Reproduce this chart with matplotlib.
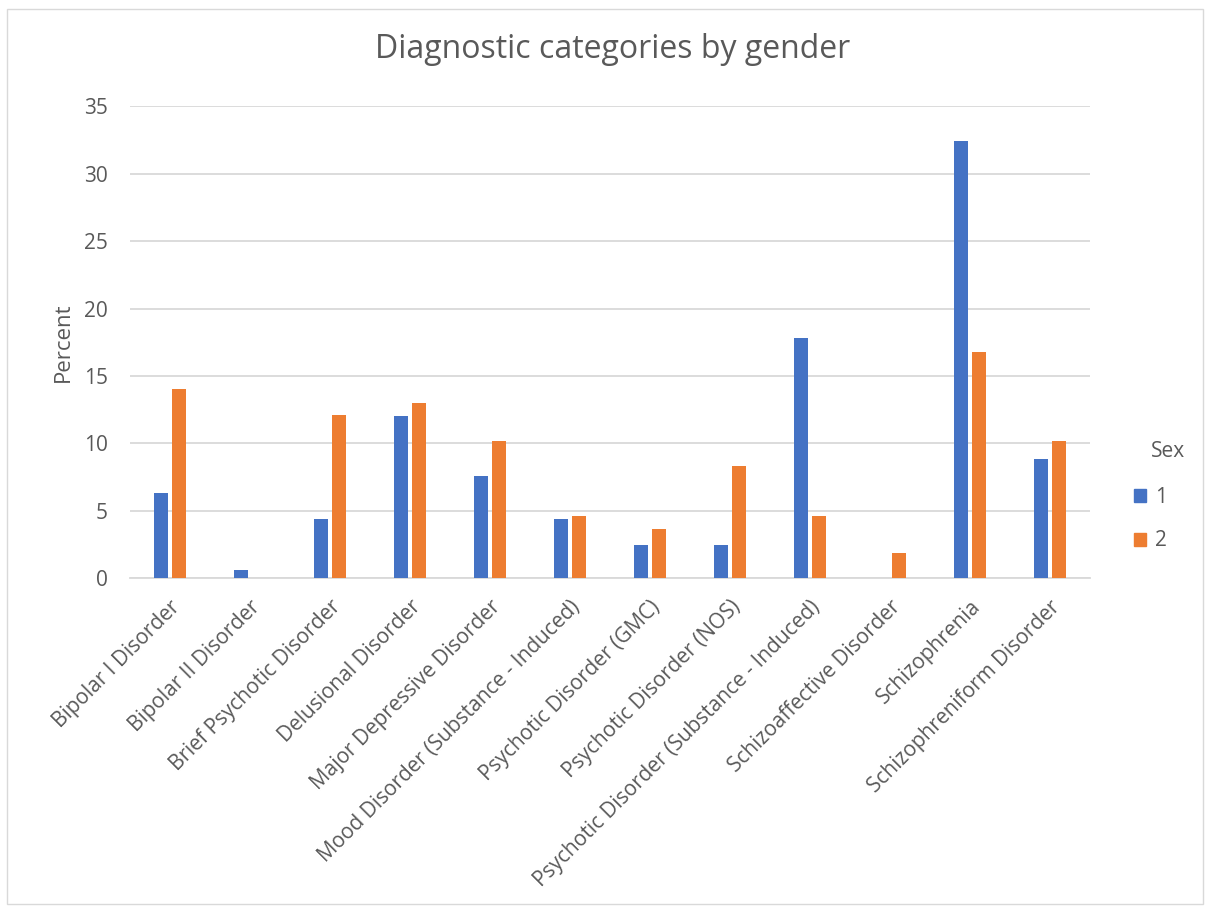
import matplotlib
matplotlib.use("Agg")
import matplotlib.pyplot as plt
import matplotlib.patches as mpatches
import numpy as np

plt.rcParams['font.family'] = ['Open Sans', 'DejaVu Sans']

#Data
categories = ["Bipolar I Disorder", "Bipolar II Disorder", "Brief Psychotic Disorder",
              "Delusional Disorder", "Major Depressive Disorder",
              "Mood Disorder (Substance - Induced)", "Psychotic Disorder (GMC)",
              "Psychotic Disorder (NOS)", "Psychotic Disorder (Substance - Induced)",
              "Schizoaffective Disorder", "Schizophrenia", "Schizophreniform Disorder"]
sex1 = [6.3, 0.6, 4.4, 12.0, 7.6, 4.4, 2.5, 2.5, 17.8, 0.0, 32.4, 8.85]
sex2 = [14.0, 0.0, 12.1, 13.0, 10.2, 4.6, 3.65, 8.35, 4.6, 1.85, 16.8, 10.2]
series_names = ["1", "2"]

blue = '#4472C4'
orange = '#ED7D31'
grey = '#595959'

fig = plt.figure(figsize=(12.1, 9.09), dpi=100)
ax = fig.add_axes([0.1074, 0.3638, 0.7934, 0.5193])

x = np.arange(len(categories))
w = 0.17
ax.bar(x - 0.115, sex1, width=w, color=blue, zorder=3)
ax.bar(x + 0.115, sex2, width=w, color=orange, zorder=3)

ax.set_xlim(-0.5, len(categories) - 0.5)
ax.set_ylim(0, 35)
ax.set_yticks(range(0, 36, 5))
ax.yaxis.grid(True, color='#D9D9D9', linewidth=1.3, zorder=0)
for s in ['top', 'right', 'left']:
    ax.spines[s].set_visible(False)
ax.spines['bottom'].set_color('#D9D9D9')
ax.spines['bottom'].set_linewidth(1.3)
ax.tick_params(axis='y', length=0, labelsize=15, labelcolor=grey, pad=16)
ax.tick_params(axis='x', length=0, labelsize=15, labelcolor=grey, pad=13)
ax.set_xticks(x)
ax.set_xticklabels(categories, rotation=45, ha='right', rotation_mode='anchor')
ax.set_ylabel("Percent", fontsize=16, color=grey, labelpad=7)

fig.text(0.506, 0.945, "Diagnostic categories by gender", ha='center', va='center',
         fontsize=23, color=grey)

#Legend
handles = [mpatches.Patch(color=blue, label=series_names[0]),
           mpatches.Patch(color=orange, label=series_names[1])]
leg = fig.legend(handles=handles, loc='center left',
                 bbox_to_anchor=(0.9215, 0.429), frameon=False, fontsize=15,
                 handlelength=0.6, handleheight=0.6,
                 labelspacing=1.1, handletextpad=0.4)
for t in leg.get_texts():
    t.set_color(grey)
fig.text(0.9655, 0.503, "Sex", ha='center', va='center', fontsize=15, color=grey)

#Chart border
fig.patches.append(mpatches.Rectangle((0.006, 0.006), 0.988, 0.984, transform=fig.transFigure,
                                      fill=False, edgecolor='#D9D9D9', linewidth=1))

fig.savefig("out.png", dpi=100)
